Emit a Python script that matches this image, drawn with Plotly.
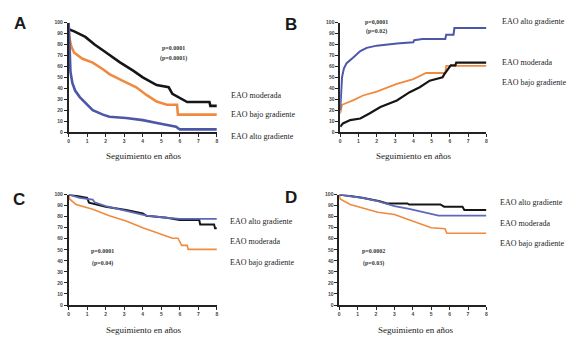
import plotly.graph_objects as go

# ---------------- data (years, %) ----------------
# Panel A
a_mod_x = [0, 0.3, 0.9, 1.1, 1.4, 2.0, 2.75, 3.5, 4.0, 4.75, 5.4, 5.6, 6.0, 6.4, 7.6, 7.65, 8]
a_mod_y = [94, 92, 87, 84, 80, 73, 64, 56, 50, 43, 41, 35, 31, 27.5, 27.5, 24, 24]
a_bajo_x = [0, 0.05, 0.15, 0.3, 0.75, 1.3, 1.85, 2.2, 2.9, 3.65, 4.2, 4.75, 5.3, 5.85, 5.9, 8]
a_bajo_y = [93, 85, 78, 72.5, 67, 63.5, 57.5, 53, 47, 41, 34, 28, 25, 25, 16, 16]
a_alto_x = [0, 0.04, 0.1, 0.2, 0.35, 0.6, 0.95, 1.3, 1.85, 2.2, 3.1, 4.0, 4.9, 5.8, 6.0, 8]
a_alto_y = [100, 70, 55, 45, 38, 32, 26, 20, 16, 14, 13, 11, 8, 5, 2.5, 2.5]

# Panel B
b_alto_x = [0, 0.03, 0.1, 0.2, 0.35, 0.7, 1.1, 1.45, 2.0, 3.1, 4.0, 4.05, 4.5, 5.75, 5.8, 6.2, 6.25, 8]
b_alto_y = [20, 35, 50, 58, 63, 68, 74, 77, 79, 81, 82, 84, 85, 85, 89, 89, 95, 95]
b_mod_x = [0, 0.15, 0.55, 1.1, 1.6, 2.2, 3.1, 3.8, 4.35, 4.9, 5.25, 5.6, 5.7, 5.9, 6.05, 6.3, 6.35, 8]
b_mod_y = [5, 8, 11, 12.5, 17, 23, 29, 36.5, 41, 47, 48.5, 50, 53, 57.5, 61, 61, 63.5, 63.5]
b_bajo_x = [0, 0.1, 0.7, 1.25, 2.0, 3.1, 4.0, 4.7, 5.75, 5.8, 8]
b_bajo_y = [17, 25, 29, 33.5, 37, 44, 48.5, 54, 54, 60.5, 60.5]

# Panel C
c_alto_x = [0, 0.6, 1.3, 1.4, 2.0, 3.1, 4.2, 5.3, 6.0, 8]
c_alto_y = [100, 97, 95.5, 93, 89.6, 85, 81, 79, 78, 78]
c_mod_x = [0, 1.0, 1.1, 2.0, 3.1, 4.0, 4.2, 5.3, 6.0, 7.05, 7.1, 7.85, 7.9, 8]
c_mod_y = [100, 97, 92.6, 89, 86, 83, 80.7, 79, 77, 77, 73, 73, 69.4, 69.4]
c_bajo_x = [0, 0.05, 0.4, 1.3, 2.2, 3.1, 4.0, 4.9, 5.6, 5.9, 6.1, 6.4, 6.45, 8]
c_bajo_y = [100, 96, 91, 86.6, 80.7, 76, 70, 64.4, 60.5, 60.5, 54, 54, 50.4, 50.4]

# Panel D
d_alto_x = [0, 1.25, 2.2, 2.6, 3.7, 3.8, 5.5, 5.7, 6.7, 6.8, 8]
d_alto_y = [100, 97, 94, 92, 92, 91, 91, 89, 89, 86, 86]
d_mod_x = [0, 1.25, 2.1, 3.0, 3.8, 4.7, 5.4, 8]
d_mod_y = [100, 97, 94, 89.6, 87, 84, 81, 81]
d_bajo_x = [0, 0.05, 0.6, 1.25, 2.1, 3.0, 3.8, 4.7, 5.0, 5.75, 5.85, 8]
d_bajo_y = [100, 96, 91, 88, 84, 82, 77, 72, 70, 69, 65, 65]

x_ticks = [0, 1, 2, 3, 4, 5, 6, 7, 8]
y_ticks = [0, 10, 20, 30, 40, 50, 60, 70, 80, 90, 100]
x_title = "Seguimiento en años"

BLACK = "#161616"
ORANGE = "#ef8a3e"
BLUE = "#4c57a8"
BLUE_LIGHT = "#5e68b8"

W, H = 567, 338

def px_x(v):
    return v / W

def px_y(v):
    return 1 - v / H

panels = {
    "A": dict(x=(68, 217), y=(20, 131.5)),
    "B": dict(x=(341, 488), y=(20, 131.5)),
    "C": dict(x=(68, 217), y=(195, 307.5)),
    "D": dict(x=(340, 488), y=(195, 307.5)),
}

fig = go.Figure()

series = [
    ("A", a_mod_x, a_mod_y, BLACK, 2.6),
    ("A", a_bajo_x, a_bajo_y, ORANGE, 2.6),
    ("A", a_alto_x, a_alto_y, BLUE, 2.6),
    ("B", b_bajo_x, b_bajo_y, ORANGE, 1.8),
    ("B", b_mod_x, b_mod_y, BLACK, 2.2),
    ("B", b_alto_x, b_alto_y, BLUE, 2.0),
    ("C", c_bajo_x, c_bajo_y, ORANGE, 1.6),
    ("C", c_mod_x, c_mod_y, BLACK, 2.0),
    ("C", c_alto_x, c_alto_y, BLUE_LIGHT, 1.8),
    ("D", d_bajo_x, d_bajo_y, ORANGE, 1.6),
    ("D", d_alto_x, d_alto_y, BLACK, 2.0),
    ("D", d_mod_x, d_mod_y, BLUE_LIGHT, 1.8),
]

idx = {"A": "", "B": "2", "C": "3", "D": "4"}

for p, xs, ys, col, w in series:
    fig.add_trace(go.Scatter(
        x=xs, y=ys, mode="lines", line=dict(color=col, width=w),
        xaxis="x" + idx[p], yaxis="y" + idx[p], showlegend=False, hoverinfo="skip"))

layout = dict(
    width=W, height=H, margin=dict(l=0, r=0, t=0, b=0),
    paper_bgcolor="white", plot_bgcolor="white", showlegend=False,
)

tickfont = dict(family="Liberation Sans, Arial, sans-serif", size=5, color="#444", weight="bold")
for p, d in panels.items():
    i = idx[p]
    layout["xaxis" + i] = dict(
        domain=[px_x(d["x"][0]), px_x(d["x"][1])], range=[0, 8],
        anchor="y" + i, tickmode="array", tickvals=x_ticks,
        ticks="outside", ticklen=3, tickwidth=1.2, tickcolor="#222",
        showline=True, linecolor="#222", linewidth=1.5,
        showgrid=False, zeroline=False, tickfont=tickfont, fixedrange=True)
    layout["yaxis" + i] = dict(
        domain=[px_y(d["y"][1]), px_y(d["y"][0])], range=[0, 100],
        anchor="x" + i, tickmode="array", tickvals=y_ticks,
        ticks="outside", ticklen=3, tickwidth=1.2, tickcolor="#222",
        showline=True, linecolor="#222", linewidth=1.5,
        showgrid=False, zeroline=False, tickfont=tickfont, fixedrange=True)

fig.update_layout(**layout)

def txt(x, y, s, size=8, family="Liberation Serif, Times New Roman, serif",
        xanchor="left", bold=False, color="#222"):
    fig.add_annotation(
        x=px_x(x), y=px_y(y), xref="paper", yref="paper", text=s,
        showarrow=False, xanchor=xanchor, yanchor="middle",
        font=dict(size=size, family=family, color=color, weight="bold" if bold else "normal"))

# panel letters
for letter, (lx, ly) in {"A": (19, 21), "B": (292, 22), "C": (18, 200), "D": (292, 198)}.items():
    txt(lx, ly, letter, size=17, family="Liberation Sans, Arial, sans-serif",
        xanchor="center", bold=True, color="#1a1a1a")

# group labels
labels = [
    (229, 94, "EAO moderada"), (229, 114, "EAO bajo gradiente"), (229, 136, "EAO alto gradiente"),
    (502, 19, "EAO alto gradiente"), (502, 61, "EAO moderada"), (502, 81, "EAO bajo gradiente"),
    (228, 222, "EAO alto gradiente"), (228, 243, "EAO moderada"), (228, 264, "EAO bajo gradiente"),
    (500, 203, "EAO alto gradiente"), (500, 224, "EAO moderada"), (500, 245, "EAO bajo gradiente"),
]
for lx, ly, s in labels:
    txt(lx, ly, s, size=8)

# x-axis titles
for cx, cy in [(143, 156), (415, 156), (143, 333), (417, 333)]:
    txt(cx, cy, x_title, size=9, xanchor="center")

# p values
pvals = [
    (173, 46, "p=0.0001"), (173, 57, "(p=0.0001)"),
    (377, 19, "p=0,0001"), (377, 29, "(p=0.02)"),
    (102, 252, "p=0.0001"), (102, 265, "(p=0.04)"),
    (374, 252, "p=0.0002"), (374, 265, "(p=0.03)"),
]
for lx, ly, s in pvals:
    txt(lx, ly, s, size=6, xanchor="center", bold=True, color="#333")

fig.write_html(
    "out.html",
    config={"displayModeBar": False},
    post_script="document.body.style.margin='0';document.body.style.padding='0';",
)
